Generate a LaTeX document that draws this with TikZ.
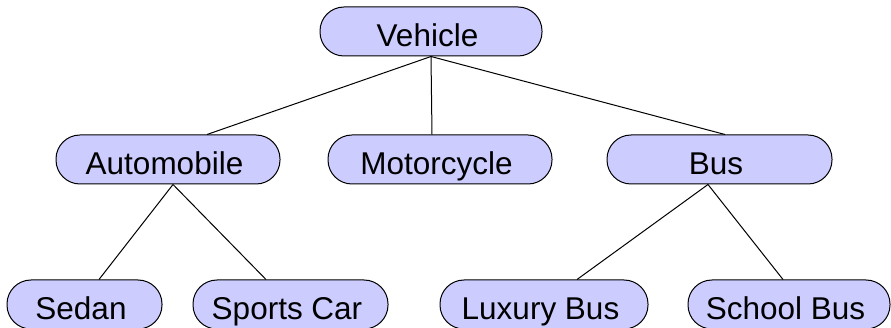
\documentclass[tikz,border=0pt]{standalone}
\usepackage{fontspec}
\setmainfont{Liberation Sans}
\begin{document}
\begin{tikzpicture}[x=1pt,y=-1pt,
  box/.style={draw=black,line width=1pt,fill={rgb,255:red,204;green,204;blue,255},
    rounded corners=24pt,minimum height=49pt,inner sep=0pt,
    text height=31pt,text depth=0pt,
    execute at end node={\hspace*{7pt}},
    font=\fontsize{31.5}{36}\selectfont},
  link/.style={draw=black,line width=1pt}]
\useasboundingbox (0,0) rectangle (891,328);
\node[box,minimum width=222pt] (veh) at (431,31.5) {Vehicle};
\node[box,minimum width=224pt] (auto) at (168,159.5) {Automobile};
\node[box,minimum width=224pt] (moto) at (440,159.5) {Motorcycle};
\node[box,minimum width=225pt] (bus) at (719.5,159.5) {Bus};
\node[box,minimum width=155pt] (sedan) at (84.5,304.5) {Sedan};
\node[box,minimum width=195pt] (sports) at (290.5,304.5) {Sports Car};
\node[box,minimum width=208pt] (lux) at (544,304.5) {Luxury Bus};
\node[box,minimum width=202pt] (school) at (789,304.5) {School Bus};
\draw[link] (veh.south) -- ([xshift=39pt]auto.north);
\draw[link] (veh.south) -- ([xshift=-8pt]moto.north);
\draw[link] (veh.south) -- ([xshift=5.5pt]bus.north);
\draw[link] ([xshift=5pt]auto.south) -- ([xshift=14.5pt]sedan.north);
\draw[link] ([xshift=5pt]auto.south) -- ([xshift=-24.5pt]sports.north);
\draw[link] ([xshift=-11.5pt]bus.south) -- ([xshift=33pt]lux.north);
\draw[link] ([xshift=-11.5pt]bus.south) -- ([xshift=-6pt]school.north);
\end{tikzpicture}
\end{document}
